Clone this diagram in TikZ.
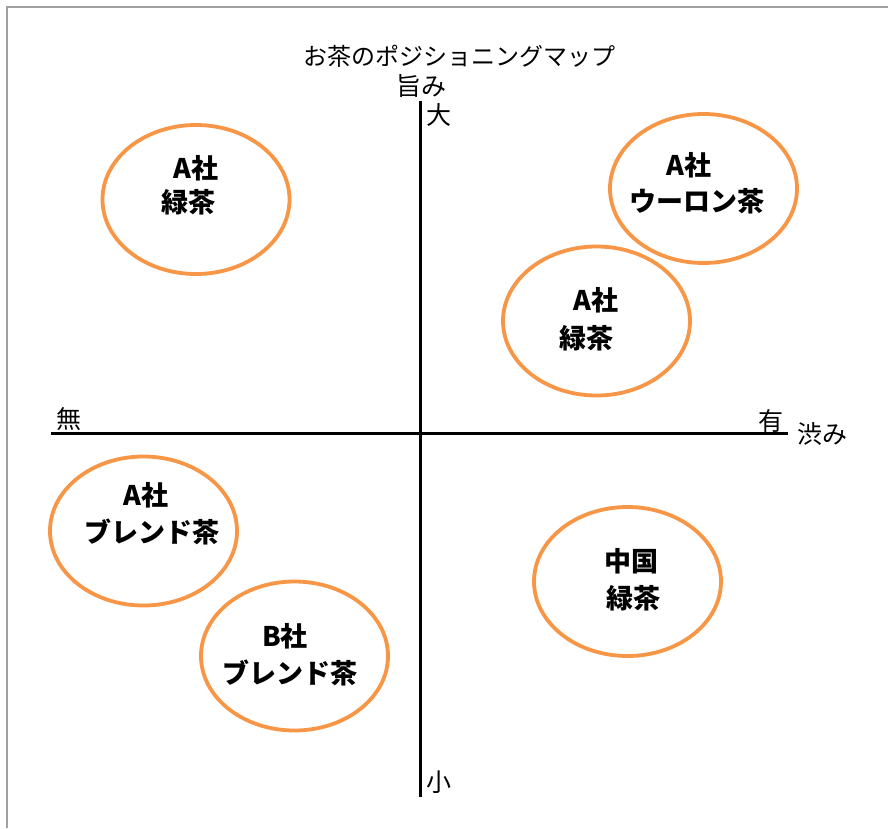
\documentclass[tikz,border=0pt]{standalone}
\usepackage{fontspec}
\setmainfont{Noto Sans CJK JP}
\usetikzlibrary{shapes.geometric}
\definecolor{tea}{HTML}{F79646}
\definecolor{framegray}{HTML}{A0A0A0}
\tikzset{
  teabubble/.style={shape=ellipse, draw=tea, line width=3.8pt, minimum width=187pt, minimum height=149pt, inner sep=0pt},
  bubbletext/.style={inner sep=0pt, font=\fontsize{27}{30}\selectfont\bfseries},
  axislabel/.style={inner sep=0pt, font=\fontsize{25}{28}\selectfont},
  axisline/.style={line width=3pt, black}
}
\begin{document}
\begin{tikzpicture}[x=1pt,y=-1pt]
\useasboundingbox (0,0) rectangle (888,828);
\fill[white] (0,0) rectangle (888,828);
% frame
\coordinate (fbl) at (7,828);
\coordinate (ftl) at (7,7);
\coordinate (ftr) at (888,7);
\draw[framegray, line width=2pt] (fbl) -- (ftl) -- (ftr);
% axes
\coordinate (vt) at (420,101);
\coordinate (vb) at (420,797);
\coordinate (hl) at (51,433);
\coordinate (hr) at (788,433);
\draw[axisline] (vt) -- (vb);
\draw[axisline] (hl) -- (hr);
% title and axis labels
\node[inner sep=0pt, font=\fontsize{24}{26}\selectfont] (title) at (459,56) {お茶のポジショニングマップ};
\node[axislabel] (umami) at (421,86) {旨み};
\node[axislabel] (dai) at (439,115) {大};
\node[axislabel] (sho) at (439,782) {小};
\node[axislabel] (mu) at (69,419) {無};
\node[axislabel] (yu) at (771,421) {有};
\node[axislabel] (shibumi) at (822,434) {渋み};
% ellipses
\node[teabubble] (e1) at (196,199.5) {};
\node[teabubble] (e2) at (703.5,188.5) {};
\node[teabubble] (e3) at (596.5,321) {};
\node[teabubble] (e4) at (143.5,531) {};
\node[teabubble] (e5) at (294.5,656) {};
\node[teabubble] (e6) at (627.5,581.5) {};
% ellipse texts
\node[bubbletext] (t1a) at (196,168) {A社};
\node[bubbletext] (t1b) at (188,202) {緑茶};
\node[bubbletext] (t2a) at (689,165) {A社};
\node[bubbletext] (t2b) at (697,201) {ウーロン茶};
\node[bubbletext] (t3a) at (596,300) {A社};
\node[bubbletext] (t3b) at (586,338) {緑茶};
\node[bubbletext] (t4a) at (146,495) {A社};
\node[bubbletext] (t4b) at (152,532) {ブレンド茶};
\node[bubbletext] (t5a) at (285,636) {B社};
\node[bubbletext] (t5b) at (290,673) {ブレンド茶};
\node[bubbletext] (t6a) at (631,561) {中国};
\node[bubbletext] (t6b) at (633,598) {緑茶};
\end{tikzpicture}
\end{document}
